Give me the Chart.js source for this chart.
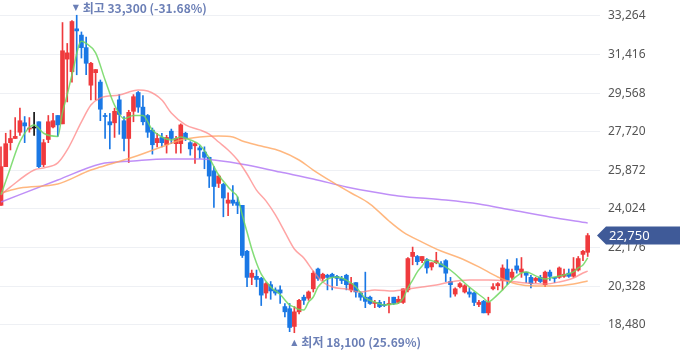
<!DOCTYPE html>
<html>
<head>
<meta charset="utf-8">
<script src="https://cdn.jsdelivr.net/npm/chart.js@4.4.1/dist/chart.umd.min.js"></script>
<style>
  html, body { margin: 0; padding: 0; background: #fff; }
</style>
</head>
<body>
<canvas id="priceChart" width="680" height="358"></canvas>
<script>
// daily candles, oldest first
const opens = [24200, 26050, 27200, 27400, 27700, 28150, 27850, 27900, 28200, 26150,
  27350, 27950, 28500, 28100, 31200, 30600, 32650, 32350, 31750, 29950,
  30550, 30100, 28500, 28200, 28150, 29250, 28250, 27400, 28700, 29600,
  28900, 28500, 27800, 27200, 27450, 27100, 27750, 27150, 27150, 27650,
  27200, 27050, 26950, 26750, 26500, 25850, 25250, 25200, 24300, 24450,
  24350, 24200, 22000, 20750, 20800, 20700, 20000, 20400, 20150, 20150,
  19350, 19250, 18400, 19100, 19800, 19750, 20200, 21150, 20700, 20850,
  20900, 20800, 20700, 20850, 20150, 20500, 20000, 19800, 19800, 19500,
  19550, 19450, 19450, 19800, 19550, 19550, 20150, 21750, 21750, 21550,
  21600, 21250, 21450, 21400, 21550, 20550, 19950, 20300, 20050, 20050,
  20000, 19450, 19600, 19050, 20200, 20350, 20600, 21150, 20750, 21300,
  21000, 21000, 20750, 20600, 20750, 20400, 21000, 20750, 20750, 20800,
  20950, 20800, 21100, 21850, 21950];
const highs = [27000, 27650, 27800, 28400, 28850, 28450, 28400, 28650, 28200, 27350,
  28500, 28600, 28500, 32950, 31950, 33050, 33300, 32500, 32250, 31050,
  30700, 30200, 28600, 28600, 28850, 29500, 28450, 28750, 29500, 29650,
  29450, 28550, 27900, 27650, 27650, 27550, 27850, 27500, 28100, 27700,
  27250, 27200, 27050, 27000, 26500, 26050, 25650, 25250, 24800, 25150,
  24600, 24200, 22050, 21100, 21100, 20750, 20500, 20550, 20250, 20350,
  19500, 19500, 19350, 19700, 19900, 20100, 21050, 21200, 20950, 20900,
  20950, 20850, 20800, 20900, 20750, 20500, 20050, 21000, 19850, 19650,
  19650, 19600, 19800, 19800, 19850, 20200, 21700, 22200, 21800, 21750,
  21650, 21450, 21950, 21500, 21600, 20750, 20250, 20500, 20400, 20250,
  20050, 19650, 19650, 19800, 20450, 20500, 21350, 21600, 21150, 21650,
  21700, 21000, 20850, 20750, 20850, 21050, 21100, 20750, 21250, 21150,
  21150, 21700, 21750, 22050, 22850];
const lows = [24200, 26050, 26850, 27400, 27550, 27200, 27700, 27550, 26000, 26050,
  27200, 27900, 27500, 28100, 29150, 30100, 30450, 31250, 30450, 29250,
  29250, 28250, 27400, 26900, 27450, 27600, 26800, 26250, 28200, 28650,
  28050, 27450, 26650, 27000, 27000, 26700, 27150, 26700, 26700, 27300,
  26600, 26200, 26450, 25950, 25050, 24100, 25050, 23650, 23700, 24200,
  23800, 21700, 20300, 20400, 20300, 19400, 19750, 19700, 19900, 19500,
  18850, 18150, 18100, 19000, 19450, 19650, 20050, 20600, 20600, 20150,
  20150, 20350, 20450, 20150, 20050, 19800, 19650, 19300, 19450, 19300,
  19300, 19350, 19050, 19450, 19500, 19500, 20050, 21350, 21350, 21450,
  20950, 21100, 21400, 21250, 20550, 19800, 19850, 20250, 20000, 19800,
  19400, 19350, 19050, 18950, 20150, 20150, 20150, 20400, 20650, 20950,
  20750, 20500, 20250, 20500, 20500, 20300, 20600, 20500, 20700, 20750,
  20750, 20750, 21050, 21550, 21750];
const closes = [26050, 27150, 27400, 27500, 28250, 28000, 27900, 27900, 26050, 27200,
  28200, 28250, 28050, 31600, 31500, 33000, 32550, 31750, 31000, 31000,
  30700, 28800, 28450, 28050, 28700, 28550, 27400, 28650, 29400, 28900,
  28200, 27700, 27100, 27400, 27200, 27450, 27400, 27400, 28050, 27400,
  26900, 27150, 26850, 26500, 25600, 25100, 25600, 24550, 24450, 24300,
  24200, 21800, 20750, 20950, 20650, 19900, 20450, 20100, 20000, 20000,
  19100, 18350, 19100, 19650, 19650, 20050, 20950, 20700, 20900, 20750,
  20750, 20700, 20600, 20400, 20450, 20050, 19800, 19600, 19500, 19550,
  19350, 19400, 19500, 19500, 19700, 20200, 21650, 21950, 21500, 21750,
  21200, 21450, 21550, 21250, 20950, 20400, 20200, 20450, 20350, 19950,
  19550, 19550, 19050, 19550, 20300, 20450, 21200, 20600, 21000, 21100,
  21150, 20850, 20450, 20700, 20550, 21000, 20800, 20700, 21200, 20900,
  20800, 21150, 21650, 22000, 22750];

// moving averages at selected candles
const ma5Idx = [0, 2, 4, 7, 9, 12, 13, 14, 15, 17, 18, 20, 22, 24, 26, 28, 30, 32, 34, 36,
  38, 40, 42, 44, 46, 48, 49, 50, 51, 52, 53, 54, 55, 57, 59, 61, 62, 63, 64, 65,
  66, 67, 69, 71, 73, 75, 77, 79, 81, 83, 84, 85, 86, 87, 88, 89, 90, 92, 94, 96,
  98, 100, 102, 103, 104, 106, 108, 110, 111, 113, 115, 117, 119, 121, 122, 123, 124];
const ma5 = [24700, 26000, 27250, 28050, 27650, 27500, 28650, 29500, 30450, 32050,
  31950, 31500, 30200, 29000, 28350, 28500, 28500, 27800, 27470, 27330,
  27470, 27330, 27100, 26470, 25650, 25080, 24840, 24600, 23730, 22920,
  22110, 21440, 20910, 20290, 19930, 19430, 19330, 19210, 19190, 19570,
  19810, 20290, 20670, 20770, 20620, 20290, 19760, 19570, 19430, 19470,
  19520, 19760, 20240, 20620, 21010, 21290, 21580, 21480, 21250, 20910,
  20480, 20100, 19760, 19570, 19720, 20150, 20620, 20960, 21010, 20820,
  20670, 20770, 20860, 21010, 21200, 21340, 21680];

const ma20Idx = [0, 2, 7, 9, 12, 14, 17, 19, 21, 25, 29, 31, 34, 36, 39, 42, 44, 46, 48, 50,
  52, 54, 56, 58, 60, 62, 64, 66, 68, 70, 73, 76, 79, 83, 86, 89, 92, 95, 99, 103,
  107, 111, 115, 118, 121, 123, 124];
const ma20 = [24700, 25080, 25890, 25990, 26230, 26850, 28190, 29000, 29340, 29480,
  29720, 29670, 29240, 28620, 28050, 27810, 27610, 27230, 26850, 26370,
  25700, 24930, 24410, 23740, 22920, 22110, 21680, 21050, 20530, 20290,
  20190, 20050, 20150, 20100, 20190, 20290, 20380, 20530, 20620, 20620,
  20580, 20480, 20430, 20530, 20720, 20960, 21050];

const ma60Idx = [0, 4, 12, 19, 21, 28, 35, 38, 42, 46, 49, 51, 55, 59, 63, 66, 70, 74, 78, 82,
  85, 89, 93, 97, 101, 105, 109, 113, 117, 121, 124];
const ma60 = [24790, 25030, 25220, 25890, 26030, 26510, 27090, 27330, 27470, 27520,
  27470, 27280, 27040, 26800, 26370, 25890, 25320, 24790, 24260, 23450,
  22920, 22440, 22010, 21680, 21250, 20770, 20430, 20340, 20340, 20430, 20580];

const ma120Idx = [0, 12, 21, 28, 35, 42, 45, 52, 59, 66, 73, 80, 84, 94, 101, 108, 116, 124];
const ma120 = [24360, 25410, 26180, 26320, 26420, 26420, 26370, 26130, 25790, 25460,
  25080, 24790, 24650, 24450, 24260, 23970, 23640, 23350];

const yTicks = [18480, 20328, 22176, 24024, 25872, 27720, 29568, 31416, 33264];

const upColor = "#ef3a3d";
const downColor = "#1a78e5";

function candleColor(i) {
  if (closes[i] > opens[i]) return upColor;
  if (closes[i] < opens[i]) return downColor;
  return "#111";
}

const colors = closes.map((c, i) => candleColor(i));
const wickData = highs.map((h, i) => ({ x: i, y: [lows[i], h] }));
const bodyData = opens.map((o, i) => ({ x: i, y: [o, closes[i]] }));

function toPoints(idx, vals) {
  return idx.map((x, k) => ({ x: x, y: vals[k] }));
}

function maLine(label, idx, vals, color) {
  return {
    type: "line",
    label: label,
    data: toPoints(idx, vals),
    borderColor: color,
    borderWidth: 1.5,
    pointRadius: 0,
    cubicInterpolationMode: "monotone",
    fill: false,
    order: 0,
  };
}

const hiIdx = highs.indexOf(Math.max(...highs));
const loIdx = lows.indexOf(Math.min(...lows));

const labelsPlugin = {
  id: "priceLabels",
  afterDraw(chart) {
    const ctx = chart.ctx;
    const xs = chart.scales.x;
    const ys = chart.scales.y;
    const area = chart.chartArea;
    ctx.save();
    ctx.textBaseline = "middle";
    ctx.textAlign = "left";
    ctx.fillStyle = "#6b7fb6";

    // max / min markers
    let px = xs.getPixelForValue(hiIdx) - 4;
    let py = ys.getPixelForValue(highs[hiIdx]) - 7;
    ctx.font = "8px 'DejaVu Sans'";
    ctx.fillText("▼", px, py);
    ctx.font = "bold 12px 'Noto Sans CJK KR'";
    ctx.fillText("최고 33,300 (-31.68%)", px + 10, py);

    px = xs.getPixelForValue(loIdx) - 3;
    py = ys.getPixelForValue(lows[loIdx]) + 10;
    ctx.font = "8px 'DejaVu Sans'";
    ctx.fillText("▲", px, py);
    ctx.font = "bold 12px 'Noto Sans CJK KR'";
    ctx.fillText("최저 18,100 (25.69%)", px + 10, py);

    // last price tag
    const last = closes[closes.length - 1];
    const ty = ys.getPixelForValue(last);
    ctx.fillStyle = "#3f5a98";
    ctx.beginPath();
    ctx.moveTo(area.right - 3, ty);
    ctx.lineTo(area.right + 6, ty - 9);
    ctx.lineTo(680, ty - 9);
    ctx.lineTo(680, ty + 9);
    ctx.lineTo(area.right + 6, ty + 9);
    ctx.closePath();
    ctx.fill();
    ctx.fillStyle = "#fff";
    ctx.font = "13px 'Noto Sans'";
    ctx.fillText(last.toLocaleString("en-US"), area.right + 9, ty + 1);
    ctx.restore();
  },
};

const chart = new Chart("priceChart", {
  type: "bar",
  data: {
    datasets: [
      maLine("MA5", ma5Idx, ma5, "rgba(110, 215, 95, 0.85)"),
      maLine("MA20", ma20Idx, ma20, "rgba(255, 125, 125, 0.7)"),
      maLine("MA60", ma60Idx, ma60, "rgba(255, 165, 95, 0.8)"),
      maLine("MA120", ma120Idx, ma120, "rgba(175, 115, 245, 0.8)"),
      {
        label: "body",
        data: bodyData,
        backgroundColor: colors,
        barThickness: 4,
        minBarLength: 1,
        grouped: false,
        order: 1,
      },
      {
        label: "wick",
        data: wickData,
        backgroundColor: colors,
        barThickness: 1,
        grouped: false,
        order: 2,
      },
    ],
  },
  options: {
    responsive: false,
    animation: false,
    layout: { padding: 0, autoPadding: false },
    plugins: {
      legend: { display: false },
      tooltip: { enabled: false },
    },
    scales: {
      x: {
        type: "linear",
        display: false,
        offset: false,
        min: -0.21,
        max: 126.6,
      },
      y: {
        position: "right",
        min: 16889,
        max: 34030,
        afterBuildTicks(scale) {
          scale.ticks = yTicks.map((v) => ({ value: v }));
        },
        afterFit(scale) {
          scale.width = 80;
          scale.paddingTop = 0;
          scale.paddingBottom = 0;
        },
        border: { display: false },
        grid: { color: "#eef0f4", drawTicks: false },
        ticks: {
          color: "#555",
          padding: 8,
          font: { family: "'Noto Sans'", size: 12 },
          callback: (v) => v.toLocaleString("en-US"),
        },
      },
    },
  },
  plugins: [labelsPlugin],
});
</script>
</body>
</html>
